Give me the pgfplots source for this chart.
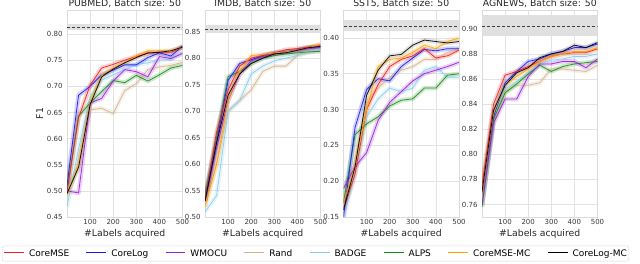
\documentclass[border=0pt]{standalone}
\usepackage{pgfplots}
\pgfplotsset{compat=1.18}
\usepackage{pgfplotstable}
\usepackage{fontspec}
\setmainfont{DejaVu Sans}
\definecolor{cMSE}{HTML}{F02020}
\definecolor{cLOG}{HTML}{1A1AF0}
\definecolor{cWM}{HTML}{9B1FD6}
\definecolor{cRAND}{HTML}{D2B48C}
\definecolor{cBADGE}{HTML}{87CEEB}
\definecolor{cALPS}{HTML}{168C16}
\definecolor{cMSEMC}{HTML}{FFA500}
\definecolor{cLOGMC}{HTML}{000000}

\pgfplotstableread{
x mse log wm rand badge alps msemc logmc
0 0.500 0.510 0.500 0.500 0.470 0.500 0.490 0.495
50 0.640 0.683 0.496 0.550 0.580 0.643 0.550 0.545
100 0.702 0.700 0.668 0.655 0.680 0.668 0.670 0.665
150 0.735 0.722 0.677 0.658 0.712 0.690 0.722 0.718
200 0.742 0.731 0.710 0.648 0.722 0.711 0.735 0.733
250 0.750 0.741 0.732 0.692 0.732 0.707 0.745 0.745
300 0.757 0.741 0.728 0.705 0.742 0.721 0.758 0.755
350 0.763 0.755 0.718 0.732 0.745 0.710 0.768 0.764
400 0.765 0.764 0.757 0.737 0.750 0.722 0.768 0.765
450 0.765 0.758 0.753 0.740 0.752 0.735 0.768 0.768
500 0.775 0.777 0.763 0.746 0.765 0.740 0.775 0.775
}\pubmed

\pgfplotstableread{
x mse log wm rand badge alps msemc logmc
0 0.530 0.530 0.530 0.520 0.510 0.540 0.520 0.530
50 0.660 0.640 0.630 0.600 0.540 0.650 0.600 0.640
100 0.740 0.758 0.720 0.700 0.700 0.765 0.720 0.730
150 0.785 0.790 0.770 0.720 0.720 0.775 0.775 0.770
200 0.800 0.797 0.795 0.740 0.770 0.790 0.805 0.790
250 0.805 0.805 0.803 0.775 0.785 0.800 0.807 0.800
300 0.810 0.810 0.808 0.785 0.795 0.805 0.810 0.808
350 0.816 0.812 0.812 0.785 0.800 0.808 0.812 0.810
400 0.818 0.815 0.815 0.805 0.805 0.810 0.815 0.815
450 0.821 0.820 0.818 0.811 0.812 0.812 0.820 0.820
500 0.825 0.822 0.820 0.815 0.818 0.813 0.826 0.822
}\imdb

\pgfplotstableread{
x mse log wm rand badge alps msemc logmc
0 0.160 0.150 0.190 0.170 0.150 0.170 0.170 0.160
50 0.210 0.275 0.220 0.230 0.210 0.265 0.220 0.220
100 0.300 0.328 0.240 0.310 0.290 0.280 0.300 0.320
150 0.335 0.343 0.285 0.330 0.315 0.290 0.360 0.355
200 0.360 0.340 0.310 0.345 0.330 0.305 0.370 0.375
250 0.370 0.360 0.325 0.355 0.325 0.313 0.372 0.377
300 0.375 0.372 0.340 0.360 0.330 0.315 0.380 0.390
350 0.385 0.384 0.350 0.370 0.355 0.330 0.390 0.397
400 0.372 0.382 0.355 0.370 0.360 0.330 0.385 0.395
450 0.375 0.385 0.360 0.380 0.345 0.348 0.395 0.393
500 0.383 0.385 0.366 0.385 0.345 0.350 0.400 0.395
}\sst

\pgfplotstableread{
x mse log wm rand badge alps msemc logmc
0 0.775 0.768 0.760 0.760 0.760 0.758 0.768 0.770
50 0.840 0.830 0.825 0.825 0.830 0.828 0.833 0.835
100 0.863 0.857 0.844 0.850 0.852 0.849 0.855 0.855
150 0.866 0.866 0.844 0.855 0.858 0.856 0.862 0.865
200 0.870 0.874 0.862 0.855 0.865 0.864 0.868 0.869
250 0.874 0.876 0.872 0.857 0.872 0.871 0.874 0.877
300 0.878 0.880 0.872 0.868 0.875 0.866 0.878 0.880
350 0.880 0.882 0.874 0.868 0.876 0.870 0.880 0.882
400 0.881 0.885 0.874 0.867 0.878 0.872 0.882 0.887
450 0.881 0.885 0.869 0.866 0.878 0.873 0.882 0.885
500 0.884 0.888 0.876 0.871 0.880 0.874 0.885 0.889
}\agnews

\pgfplotsset{
  panel/.style={
    scale only axis, width=115.5pt, height=207pt,
    xmin=0, xmax=500, xtick={100,200,300,400,500},
    grid=major, grid style={color=black!11, line width=0.7pt},
    axis line style={color=black!14, line width=0.7pt},
    major tick length=0pt, tick style={draw=none},
    tick label style={font=\fontsize{7}{8}\selectfont, color=black!78},
    /pgf/number format/assume math mode=true,
    y tick label style={/pgf/number format/fixed, /pgf/number format/fixed zerofill, /pgf/number format/precision=2, xshift=-1pt},
    x tick label style={yshift=1pt},
    title style={font=\fontsize{9.3}{11}\selectfont, color=black!85, at={(0.5,1)}, anchor=base, yshift=-2.5pt},
    label style={font=\fontsize{9.3}{11}\selectfont, color=black!85},
    xlabel={\#Labels acquired},
    xlabel style={yshift=2pt},
  },
  band/.style={forget plot, line width=4.5pt, opacity=0.2, line join=round},
  ln/.style={forget plot, line width=0.8pt, opacity=0.9, line join=round},
}

\newcommand{\series}[1]{%
  \addplot[band, cRAND] table[x=x,y=rand]{#1};
  \addplot[band, cBADGE] table[x=x,y=badge]{#1};
  \addplot[band, cALPS] table[x=x,y=alps]{#1};
  \addplot[band, cWM] table[x=x,y=wm]{#1};
  \addplot[band, cLOG] table[x=x,y=log]{#1};
  \addplot[band, cMSE] table[x=x,y=mse]{#1};
  \addplot[band, cMSEMC] table[x=x,y=msemc]{#1};
  \addplot[band, cLOGMC, opacity=0.1] table[x=x,y=logmc]{#1};
  \addplot[ln, cRAND] table[x=x,y=rand]{#1};
  \addplot[ln, cBADGE] table[x=x,y=badge]{#1};
  \addplot[ln, cALPS] table[x=x,y=alps]{#1};
  \addplot[ln, cWM] table[x=x,y=wm]{#1};
  \addplot[ln, cLOG] table[x=x,y=log]{#1};
  \addplot[ln, cMSE] table[x=x,y=mse]{#1};
  \addplot[ln, cMSEMC] table[x=x,y=msemc]{#1};
  \addplot[ln, cLOGMC] table[x=x,y=logmc]{#1};
}
\newcommand{\refband}[3]{%
  \addplot[forget plot, fill=black!12, draw=none] coordinates {(0,#1) (500,#1) (500,#3) (0,#3)} -- cycle;
  \addplot[forget plot, black!75, densely dashed, line width=0.5pt] coordinates {(0,#2) (500,#2)};
}
\newcommand{\lgitem}[2]{\textcolor{#1}{\rule[2.8pt]{20pt}{1.2pt}}\hspace{5pt}#2}

\begin{document}
\begin{tikzpicture}
\useasboundingbox (0pt,0pt) rectangle (640pt,-263pt);
\begin{axis}[panel, at={(67pt,-217pt)}, anchor=south west,
  ymin=0.45, ymax=0.846, ytick={0.45,0.50,...,0.81},
  title={PUBMED, Batch size: 50}, ylabel={F1}, ylabel style={yshift=-3pt}]
\refband{0.807}{0.8135}{0.820}
\series{\pubmed}
\end{axis}

\begin{axis}[panel, at={(205pt,-217pt)}, anchor=south west,
  ymin=0.50, ymax=0.891, ytick={0.50,0.55,...,0.86},
  title={IMDB, Batch size: 50}]
\refband{0.847}{0.8545}{0.862}
\series{\imdb}
\end{axis}

\begin{axis}[panel, at={(343.5pt,-217pt)}, anchor=south west,
  ymin=0.15, ymax=0.439, ytick={0.15,0.20,...,0.41},
  title={SST5, Batch size: 50}]
\refband{0.410}{0.417}{0.425}
\series{\sst}
\end{axis}

\begin{axis}[panel, at={(482pt,-217pt)}, anchor=south west,
  ymin=0.75, ymax=0.915, ytick={0.76,0.78,...,0.91},
  title={AGNEWS, Batch size: 50}]
\refband{0.8945}{0.9024}{0.911}
\series{\agnews}
\end{axis}

\begin{axis}[scale only axis, width=635pt, height=17pt, at={(2pt,-262pt)}, anchor=south west,
  hide axis, xmin=0, xmax=1, ymin=0, ymax=1,
  legend columns=8,
  legend style={at={(0,0.5)}, anchor=west, draw=black!15, rounded corners=2pt,
    font=\fontsize{9}{10}\selectfont, inner ysep=1.5pt, inner xsep=0pt,
    /tikz/every even column/.append style={column sep=13.2pt}}]
\addlegendimage{empty legend}\addlegendentry{\lgitem{cMSE}{CoreMSE}}
\addlegendimage{empty legend}\addlegendentry{\lgitem{cLOG}{CoreLog}}
\addlegendimage{empty legend}\addlegendentry{\lgitem{cWM}{WMOCU}}
\addlegendimage{empty legend}\addlegendentry{\lgitem{cRAND}{Rand}}
\addlegendimage{empty legend}\addlegendentry{\lgitem{cBADGE}{BADGE}}
\addlegendimage{empty legend}\addlegendentry{\lgitem{cALPS}{ALPS}}
\addlegendimage{empty legend}\addlegendentry{\lgitem{cMSEMC}{CoreMSE-MC}}
\addlegendimage{empty legend}\addlegendentry{\lgitem{cLOGMC}{CoreLog-MC}}
\end{axis}
\end{tikzpicture}
\end{document}
